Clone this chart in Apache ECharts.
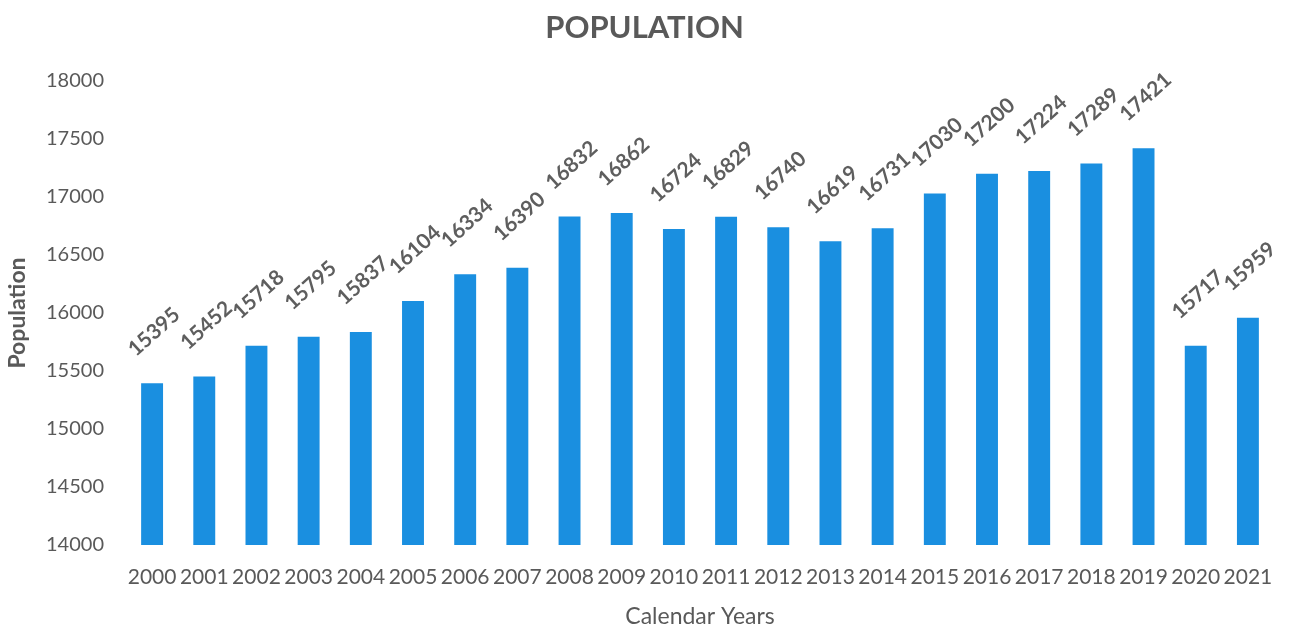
<!DOCTYPE html>
<html><head><meta charset="utf-8">
<script src="https://cdn.jsdelivr.net/npm/echarts@6/dist/echarts.min.js"></script>
<style>html,body{margin:0;padding:0;background:#fff}#c{width:1289px;height:628px}</style>
</head><body><div id="c"></div>
<script>
const categories = ['2000','2001','2002','2003','2004','2005','2006','2007','2008','2009','2010','2011','2012','2013','2014','2015','2016','2017','2018','2019','2020','2021'];
const population = [15395,15452,15718,15795,15837,16104,16334,16390,16832,16862,16724,16829,16740,16619,16731,17030,17200,17224,17289,17421,15717,15959];
const chart = echarts.init(document.getElementById('c'));
const txt = '#595959';
const font = 'Lato, "Open Sans", sans-serif';
chart.setOption({
  animation:false,
  title:{text:'POPULATION',left:'center',top:7,textStyle:{fontFamily:font,fontSize:31,fontWeight:'bold',color:txt}},
  grid:{left:126,right:15,top:81,bottom:83,containLabel:false,outerBoundsMode:'none'},
  xAxis:{type:'category',data:categories,
    name:'Calendar Years',nameLocation:'middle',nameGap:60,
    nameTextStyle:{fontFamily:font,fontSize:23,color:txt},
    axisLine:{show:false},axisTick:{show:false},
    axisLabel:{interval:0,fontFamily:font,fontSize:21,color:txt,margin:22}},
  yAxis:{type:'value',min:14000,max:18000,interval:500,
    name:'Population',nameLocation:'middle',nameGap:97,
    nameTextStyle:{fontFamily:font,fontSize:23,fontWeight:'bold',color:txt},
    splitLine:{show:false},axisLine:{show:false},axisTick:{show:false},
    axisLabel:{fontFamily:font,fontSize:20,color:txt,margin:22,formatter:v=>String(v)}},
  series:[{type:'bar',data:population,barWidth:'42%',
    itemStyle:{color:'#1a8fe0'},
    label:{show:true,position:'top',rotate:42,align:'left',verticalAlign:'middle',
      offset:[2,-33],fontFamily:font,fontSize:21,fontWeight:'bold',color:'#5e5e5e'}}]
});
</script></body></html>
